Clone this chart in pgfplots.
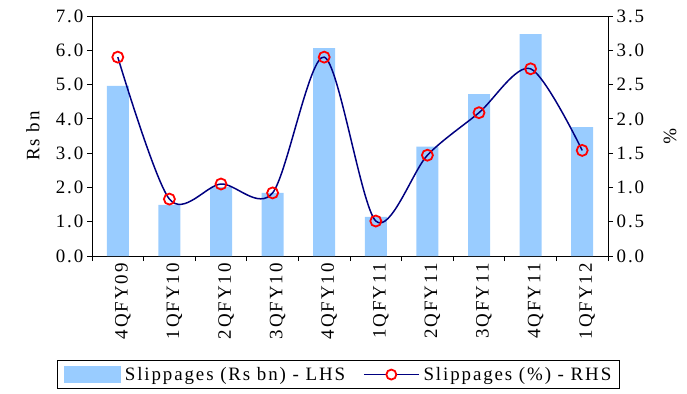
\documentclass[border=0pt]{standalone}
\usepackage{pgfplots}
\pgfplotsset{compat=1.18}
\usepackage{fontspec}
\setmainfont{Liberation Serif}[LetterSpace=10]

\definecolor{barblue}{RGB}{153,204,255}
\definecolor{linenavy}{RGB}{0,0,128}
\definecolor{markred}{RGB}{255,0,0}

\pgfplotstableread{
x  amt   pct   q
0  4.96  2.90  4QFY09
1  1.49  0.83  1QFY10
2  2.01  1.05  2QFY10
3  1.84  0.92  3QFY10
4  6.06  2.90  4QFY10
5  1.14  0.51  1QFY11
6  3.19  1.47  2QFY11
7  4.72  2.09  3QFY11
8  6.47  2.73  4QFY11
9  3.76  1.54  1QFY12
}\slip

\begin{document}
\begin{tikzpicture}[x=1bp,y=1bp]
\useasboundingbox (0,0) rectangle (687,393);
\pgfplotsset{
  every axis/.append style={
    scale only axis, width=516bp, height=240bp,
    at={(92bp,137bp)}, anchor=south west,
    xmin=-0.5, xmax=9.5,
    font=\fontsize{19}{21}\selectfont,
    tick label style={font=\fontsize{19}{21}\selectfont},
    /pgf/number format/assume math mode=true,
    /pgf/number format/fixed, /pgf/number format/fixed zerofill,
    /pgf/number format/precision=1,
    tick align=outside, major tick length=5bp, minor tick length=5bp,
    line width=0.8pt,
    every tick/.style={black, line width=0.8pt},
  }
}
% left axis: amounts as bars
\begin{axis}[
  axis y line*=left, axis x line*=bottom,
  ymin=0, ymax=7, ytick={0,1,...,7},
  xtick={0,...,9},
  xticklabels={4QFY09,1QFY10,2QFY10,3QFY10,4QFY10,1QFY11,2QFY11,3QFY11,4QFY11,1QFY12},
  x tick label style={rotate=90, anchor=east, inner sep=2bp, yshift=-5bp},
  major x tick style={draw=none},
  minor xtick={-0.5,0.5,...,9.5},
  ylabel={Rs bn},
  ylabel style={at={(axis description cs:-0.1143,0.5)}, anchor=center},
  clip=false,
]
\addplot[ybar, bar width=22bp, fill=barblue, draw=none] table[x=x, y=amt] {\slip};
\draw[line width=0.8pt] (rel axis cs:0,1) -- (rel axis cs:1,1);
\end{axis}
% right axis: percentages as a smoothed line
\begin{axis}[
  axis y line*=right, axis x line=none,
  ymin=0, ymax=3.5, ytick={0,0.5,...,3.5},
  ylabel={\%},
  ylabel style={at={(axis description cs:1.120,0.5)}, rotate=180, anchor=center},
  clip=false,
  legend style={
    at={(0.4777,-0.494)}, anchor=center,
    legend columns=2, draw=black, line width=1.2pt,
    font=\fontsize{19}{21}\selectfont,
    inner xsep=6bp, inner ysep=3bp,
    nodes={inner xsep=2bp, inner ysep=4bp},
    /tikz/every even column/.append style={column sep=16bp},
    /tikz/every odd column/.append style={column sep=2bp},
  },
  legend cell align=left,
]
\addlegendimage{area legend, legend image code/.code={
  \fill[barblue] (0bp,-7.5bp) rectangle (56bp,7.5bp);}}
\addlegendentry{Slippages (Rs bn) - LHS}
\addplot[linenavy, line width=1.5pt, smooth, tension=0.5,
  mark=o, mark size=5.5bp,
  mark options={draw=markred, fill=white, line width=1.8pt, solid},
  legend image code/.code={
    \draw[linenavy, line width=1.5pt] (0bp,0bp) -- (55bp,0bp);
    \draw[markred, fill=white, line width=1.8pt] (27.5bp,0bp) circle (5bp);}
] table[x=x, y=pct] {\slip};
\addlegendentry{Slippages (\%) - RHS}
\end{axis}
\end{tikzpicture}
\end{document}
